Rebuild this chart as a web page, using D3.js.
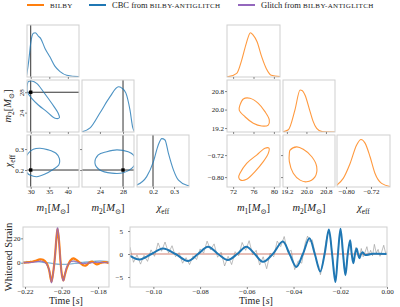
<!DOCTYPE html>
<html>
<head>
<meta charset="utf-8">
<script src="https://cdn.jsdelivr.net/npm/d3@7.9.0/dist/d3.min.js"></script>
<style>
  body { margin: 0; background: #fff; }
  svg text { font-family: "Liberation Serif", "DejaVu Serif", serif; fill: #222; }
</style>
</head>
<body>
<script>
// ---- data ----

// series colours
const colBilby  = '#ff7f0e';
const colCBC    = '#1f77b4';
const colGlitch = '#9467bd';

// legend
const legendLabels = [
  { pre: '', sc: 'bilby', color: colBilby },
  { pre: 'CBC from ', sc: 'bilby-antiglitch', color: colCBC },
  { pre: 'Glitch from ', sc: 'bilby-antiglitch', color: colGlitch }
];

// left corner (CBC from bilby-antiglitch): marginals [value, density]
const leftM1Hist  = [[28.9,0.04],[29.5,0.38],[30.0,0.75],[30.7,0.97],[31.2,0.98],[32.1,0.90],[32.7,0.85],[33.85,0.63],[35.2,0.44],[36.5,0.24],[37.9,0.12],[39.7,0.04],[42.8,0.01],[43.2,0.01]];
const leftM2Hist  = [[20.8,0.0],[22.3,0.09],[24.0,0.42],[25.7,0.77],[27.2,1.0],[27.8,0.97],[28.5,0.86],[29.2,0.49],[29.7,0.09],[30.0,0.01]];
const leftChiHist = [[0.12,0.04],[0.17,0.23],[0.202,0.56],[0.225,0.93],[0.242,1.07],[0.257,1.04],[0.273,0.75],[0.297,0.38],[0.321,0.15],[0.361,0.04],[0.375,0.03]];
// left corner 2D contours
const leftM1M2  = [[29.35,30.07],[30.27,30.2],[31.6,29.75],[33.4,28.1],[35.65,25.83],[37.4,23.87],[37.7,23.0],[36.55,22.9],[34.3,24.2],[32.05,25.5],[30.27,26.8],[29.08,28.1],[29.08,29.4]];
const leftM1Chi = [[29.35,0.280],[30.7,0.299],[32.5,0.304],[34.74,0.296],[36.8,0.280],[37.7,0.256],[37.55,0.224],[36.1,0.204],[33.85,0.181],[31.6,0.168],[29.8,0.176],[29.08,0.185],[28.2,0.234]];
const leftM2Chi = [[23.15,0.232],[23.72,0.272],[25.17,0.287],[26.9,0.296],[28.9,0.287],[29.78,0.272],[30.24,0.238],[29.5,0.208],[28.05,0.187],[26.04,0.185],[24.0,0.200]];
const leftTruths = [30, 28, 0.2];

// right corner (bilby)
const rightM1Hist  = [[70.6,0.01],[71.05,0.01],[72.7,0.08],[73.7,0.38],[74.6,0.75],[75.4,0.98],[75.9,0.93],[76.7,0.78],[77.6,0.45],[78.5,0.19],[79.5,0.04],[81.3,0.01]];
const rightM2Hist  = [[19.0,0.0],[19.26,0.05],[19.53,0.49],[19.74,0.93],[19.82,0.92],[19.94,0.82],[20.15,0.45],[20.27,0.24],[20.42,0.08],[20.64,0.01],[21.2,0.0]];
const rightChiHist = [[-0.83,0.04],[-0.809,0.19],[-0.787,0.52],[-0.766,0.93],[-0.752,1.05],[-0.739,0.97],[-0.723,0.67],[-0.707,0.30],[-0.686,0.08],[-0.658,0.01]];
const rightM1M2  = [[73.35,20.20],[74.0,20.46],[75.3,20.49],[76.94,20.27],[78.25,19.91],[79.1,19.55],[78.9,19.33],[77.6,19.29],[75.96,19.41],[74.33,19.69],[73.2,19.98]];
const rightM1Chi = [[73.35,-0.786],[74.66,-0.750],[76.62,-0.720],[78.25,-0.695],[79.04,-0.695],[78.9,-0.714],[77.92,-0.744],[76.29,-0.780],[74.66,-0.808],[73.49,-0.811],[73.1,-0.801]];
const rightM2Chi = [[19.33,-0.702],[19.6,-0.690],[19.87,-0.699],[20.22,-0.726],[20.42,-0.762],[20.35,-0.799],[20.01,-0.817],[19.74,-0.811],[19.46,-0.786],[19.3,-0.744],[19.3,-0.714]];

// tick values
const leftXTicks  = [[30, 35, 40], [24, 28], [0.2, 0.3]];
const leftYTicks  = [null, [24, 28], [0.2, 0.3]];
const rightXTicks = [[72, 76, 80], [19.2, 20.0, 20.8], [-0.80, -0.72]];
const rightYTicks = [null, [19.2, 20.0, 20.8], [-0.80, -0.72]];

// whitened strain around the glitch, [time s, strain]
const glitchData = [[-0.2211,0.8],[-0.2200,-0.6],[-0.2190,1.2],[-0.2180,-0.2],[-0.2170,1.5],[-0.2160,0.3],[-0.2150,2.0],[-0.2140,0.4],[-0.2130,2.2],[-0.2120,1.0],[-0.2110,2.6],[-0.2100,0.6],[-0.2090,0.8],[-0.2080,-2.2],[-0.2070,-5.0],[-0.2062,-11.5],[-0.2055,-16.5],[-0.2046,-9],[-0.2038,1],[-0.2030,14],[-0.2022,29.5],[-0.2014,20],[-0.2006,3],[-0.1998,-9.5],[-0.1990,-15],[-0.1982,-10],[-0.1972,-4.5],[-0.1962,-1.5],[-0.1952,1.8],[-0.1942,0.6],[-0.1932,2.6],[-0.1922,0.8],[-0.1912,1.2],[-0.1902,-0.9],[-0.1892,0.4],[-0.1882,-1.6],[-0.1872,-0.2],[-0.1862,-1.8],[-0.1852,0.3],[-0.1842,-0.5],[-0.1832,1.4],[-0.1822,0.1],[-0.1812,0.9],[-0.1802,-1.2],[-0.1792,0.2],[-0.1782,-0.8],[-0.1772,0.9],[-0.1762,-0.1],[-0.1752,0.7],[-0.1740,-0.4]];
const glitchBilby = [[-0.2211,0],[-0.2173,0.5],[-0.2145,1.5],[-0.2118,2.8],[-0.2101,2.5],[-0.2081,-0.5],[-0.2068,-6],[-0.2055,-15.5],[-0.2044,-6],[-0.2036,5],[-0.2028,20],[-0.2022,27.5],[-0.2015,20],[-0.2006,2],[-0.1998,-10],[-0.1990,-14.5],[-0.1982,-10],[-0.1970,-4],[-0.1950,2],[-0.1935,3.5],[-0.1921,2.5],[-0.1899,0],[-0.1882,-2],[-0.1866,-2.2],[-0.1849,0],[-0.1833,1],[-0.1807,-1.3],[-0.1784,0],[-0.1762,0.5],[-0.1740,-0.3]];
const glitchAnti = [[-0.2211,0],[-0.2150,0.5],[-0.2110,1.2],[-0.2085,-0.5],[-0.2068,-5.5],[-0.2055,-16.5],[-0.2044,-6.5],[-0.2036,5],[-0.2028,21],[-0.2022,29.5],[-0.2015,21],[-0.2006,2],[-0.1998,-10.5],[-0.1990,-15],[-0.1982,-10],[-0.1970,-3],[-0.1945,1.2],[-0.1920,0.8],[-0.1890,-0.6],[-0.1860,-0.4],[-0.1820,0.2],[-0.1740,0]];
const glitchCBC = [[-0.2211,0.4],[-0.2140,0.9],[-0.2070,-0.2],[-0.2000,-1.4],[-0.1930,-0.6],[-0.1860,0.6],[-0.1790,1.4],[-0.1740,0.9]];

// whitened strain before merger, [time s, strain]
const chirpData = [[-0.1100,1.5],[-0.1085,-1.8],[-0.1070,-0.2],[-0.1055,-2.2],[-0.1040,-0.3],[-0.1025,-1.6],[-0.1010,0.9],[-0.0995,-0.5],[-0.0980,2.4],[-0.0965,0.6],[-0.0950,2.6],[-0.0935,0.2],[-0.0920,1.8],[-0.0905,-0.6],[-0.0890,0.3],[-0.0875,-2.0],[-0.0860,-0.8],[-0.0845,-2.3],[-0.0830,-0.4],[-0.0815,-1.2],[-0.0800,1.1],[-0.0785,0.2],[-0.0770,2.8],[-0.0755,0.9],[-0.0740,2.2],[-0.0725,-0.7],[-0.0710,0.4],[-0.0695,-2.6],[-0.0680,-0.5],[-0.0665,-2.3],[-0.0650,0.5],[-0.0635,-0.4],[-0.0620,2.5],[-0.0605,0.8],[-0.0590,2.9],[-0.0575,-0.2],[-0.0560,0.8],[-0.0545,-2.4],[-0.0530,-0.6],[-0.0515,-3.2],[-0.0500,0.2],[-0.0485,-0.6],[-0.0470,2.8],[-0.0455,1.6],[-0.0440,3.8],[-0.0425,0.4],[-0.0410,0.8],[-0.0395,-3.4],[-0.0380,-1.5],[-0.0365,-2.0],[-0.0350,2.4],[-0.0340,3.9],[-0.0330,2.6],[-0.0320,3.1],[-0.0310,0.6],[-0.0300,-1.9],[-0.0292,-2.6],[-0.0285,-4.5],[-0.0278,-2.8],[-0.0270,-0.4],[-0.0262,2.6],[-0.0255,4.0],[-0.0248,4.9],[-0.0240,2.6],[-0.0233,-0.8],[-0.0226,-4.0],[-0.0220,-5.8],[-0.0214,-2.4],[-0.0207,2.2],[-0.0200,5.0],[-0.0194,3.2],[-0.0188,-0.6],[-0.0182,-3.2],[-0.0176,-4.0],[-0.0170,-1.0],[-0.0164,1.8],[-0.0158,2.6],[-0.0152,0.4],[-0.0146,-1.4],[-0.0140,-0.8],[-0.0134,1.4],[-0.0128,0.6],[-0.0122,-0.4],[-0.0116,-0.2],[-0.0110,1.2],[-0.0102,-0.6],[-0.0094,0.4],[-0.0086,1.6],[-0.0078,-0.3],[-0.0070,0.8],[-0.0062,-0.4],[-0.0054,2.1],[-0.0046,0.2],[-0.0038,1.0],[-0.0030,-0.5],[-0.0022,0.6],[-0.0014,1.9],[-0.0006,0.2],[0.0000,0.5]];
const chirpCBC = [[-0.1100,-0.4],[-0.1058,-1.2],[-0.1008,0],[-0.0959,1.2],[-0.0905,0],[-0.0852,-1.5],[-0.0809,0],[-0.0766,1.6],[-0.0723,0],[-0.0681,-1.3],[-0.0641,0],[-0.0602,1.6],[-0.0566,0],[-0.0531,-1.7],[-0.0489,0],[-0.0446,2.7],[-0.0417,0],[-0.0388,-2.8],[-0.0360,0],[-0.0332,3.4],[-0.0309,0],[-0.0286,-3.8],[-0.0267,0],[-0.0249,5.3],[-0.0235,0],[-0.0221,-6.1],[-0.0210,0],[-0.0199,5.5],[-0.0188,0],[-0.0178,-4.6],[-0.0168,0],[-0.0158,3.0],[-0.0151,0],[-0.0144,-2.0],[-0.0137,0],[-0.0130,1.2],[-0.0124,0],[-0.0118,-0.9],[-0.0111,0],[-0.0104,0.4],[-0.0098,0],[-0.0093,-0.2],[-0.0060,0.05],[0.0000,0]];
const chirpGlitch = [[-0.1100,0],[0.0000,0]];

const waveLeftTicksX  = [-0.22, -0.20, -0.18];
const waveLeftTicksY  = [0, 20];
const waveRightTicksX = [-0.10, -0.08, -0.06, -0.04, -0.02, 0.00];
const waveRightTicksY = [-5, 0, 5];

// ---- drawing ----
const svg = d3.select('body').append('svg').attr('width', 400).attr('height', 307);
const defs = svg.append('defs');
const FONT = '"Liberation Serif", "DejaVu Serif", serif';
let clipN = 0;

function frame(x0, x1, y0, y1) {
  const id = 'clip' + (clipN++);
  defs.append('clipPath').attr('id', id)
    .append('rect').attr('x', x0).attr('y', y0).attr('width', x1 - x0).attr('height', y1 - y0);
  const g = svg.append('g');
  const inner = g.append('g').attr('clip-path', `url(#${id})`);
  g.append('rect')
    .attr('x', x0).attr('y', y0).attr('width', x1 - x0).attr('height', y1 - y0)
    .attr('fill', 'none').attr('stroke', '#cfcfcf').attr('stroke-width', 1);
  return { g, inner };
}

function styleAxis(sel, size) {
  sel.attr('font-family', FONT).attr('font-size', size);
  sel.select('.domain').remove();
  sel.selectAll('.tick line').attr('stroke', '#555').attr('stroke-width', 0.7);
  sel.selectAll('.tick text').attr('fill', '#222');
}

// math-ish label made of tspans: {t, i: italic, s: subscript}
function mathLabel(parent, parts, size) {
  const t = parent.append('text').attr('font-size', size).attr('text-anchor', 'middle');
  let shift = 0;
  parts.forEach(p => {
    const ts = t.append('tspan').text(p.t);
    if (p.i) ts.attr('font-style', 'italic');
    const want = p.s ? size * 0.3 : 0;
    if (want !== shift) { ts.attr('dy', want - shift); shift = want; }
    if (p.s) ts.attr('font-size', size * 0.7);
  });
  return t;
}
const lblM1  = [{t:'m',i:1},{t:'1',s:1},{t:'['},{t:'M',i:1},{t:'⊙',s:1},{t:']'}];
const lblM2  = [{t:'m',i:1},{t:'2',s:1},{t:'['},{t:'M',i:1},{t:'⊙',s:1},{t:']'}];
const lblChi = [{t:'χ',i:1},{t:'eff',s:1}];

const rows = [[25, 77], [80, 132], [135, 187]];

function drawCorner(cfg) {
  for (let r = 0; r < 3; r++) {
    for (let c = 0; c <= r; c++) {
      const [x0, x1] = cfg.cols[c], [y0, y1] = rows[r];
      const x = d3.scaleLinear().domain(cfg.xDom[c]).range([x0, x1]);
      const y = d3.scaleLinear().domain(r === c ? [0, 1.15] : cfg.yDom[r]).range([y1, y0]);
      const { g, inner } = frame(x0, x1, y0, y1);

      if (cfg.truths) {
        inner.append('line')
          .attr('x1', x(cfg.truths[c])).attr('x2', x(cfg.truths[c]))
          .attr('y1', y0).attr('y2', y1)
          .attr('stroke', '#333').attr('stroke-width', 1);
        if (r !== c) {
          inner.append('line')
            .attr('x1', x0).attr('x2', x1)
            .attr('y1', y(cfg.truths[r])).attr('y2', y(cfg.truths[r]))
            .attr('stroke', '#333').attr('stroke-width', 1);
        }
      }

      const line = d3.line().x(d => x(d[0])).y(d => y(d[1]));
      if (r === c) {
        inner.append('path').datum(cfg.hists[c])
          .attr('d', line.curve(d3.curveMonotoneX))
          .attr('fill', 'none').attr('stroke', cfg.color)
          .attr('stroke-opacity', 0.8).attr('stroke-width', 1.1);
      } else {
        inner.append('path').datum(cfg.contours[r + '' + c])
          .attr('d', line.curve(d3.curveCatmullRomClosed))
          .attr('fill', 'none').attr('stroke', cfg.color)
          .attr('stroke-opacity', 0.8).attr('stroke-width', 1.1);
        if (cfg.truths) {
          inner.append('rect')
            .attr('x', x(cfg.truths[c]) - 1.7).attr('y', y(cfg.truths[r]) - 1.7)
            .attr('width', 3.4).attr('height', 3.4).attr('fill', '#000');
        }
      }

      const ax = g.append('g').attr('transform', `translate(0,${y1})`)
        .call(d3.axisBottom(x).tickValues(cfg.xTicks[c]).tickSize(2).tickPadding(0.5)
          .tickFormat(r === 2 ? cfg.xFmt[c] : () => ''));
      styleAxis(ax, 7);

      if (r !== c) {
        const ay = g.append('g').attr('transform', `translate(${x0},0)`)
          .call(d3.axisLeft(y).tickValues(cfg.yTicks[r]).tickSize(2).tickPadding(1)
            .tickFormat(c === 0 ? cfg.yFmt[r] : () => ''));
        styleAxis(ay, 7);
        if (c === 0 && cfg.rotateY && cfg.rotateY[r]) {
          ay.selectAll('.tick text')
            .attr('x', null).attr('dy', null)
            .attr('text-anchor', 'middle')
            .attr('transform', 'translate(-3,0) rotate(-90)');
        }
      }
    }
  }
  // x axis titles
  [lblM1, lblM2, lblChi].forEach((parts, c) => {
    const cx = (cfg.cols[c][0] + cfg.cols[c][1]) / 2;
    mathLabel(svg.append('g').attr('transform', `translate(${cx},211)`), parts, 10.5);
  });
  if (cfg.yTitles) {
    mathLabel(svg.append('g').attr('transform', 'translate(11,106) rotate(-90)'), lblM2, 10.5);
    mathLabel(svg.append('g').attr('transform', 'translate(12,161) rotate(-90)'), lblChi, 10.5);
  }
}

drawCorner({
  cols: [[27, 79], [82, 134], [137, 189]],
  xDom: [[29, 43], [20.9, 29.9], [0.124, 0.371]],
  yDom: [null, [20.2, 30.4], [0.119, 0.367]],
  xTicks: leftXTicks, yTicks: leftYTicks,
  xFmt: [d3.format('d'), d3.format('d'), d3.format('.1f')],
  yFmt: [null, d3.format('d'), d3.format('.1f')],
  rotateY: [false, true, false],
  hists: [leftM1Hist, leftM2Hist, leftChiHist],
  contours: { '10': leftM1M2, '20': leftM1Chi, '21': leftM2Chi },
  truths: leftTruths,
  color: colCBC,
  yTitles: true
});

drawCorner({
  cols: [[227, 280], [283, 335], [337, 390]],
  xDom: [[70.8, 81.2], [19.04, 21.17], [-0.829, -0.659]],
  yDom: [null, [19.03, 21.28], [-0.836, -0.647]],
  xTicks: rightXTicks, yTicks: rightYTicks,
  xFmt: [d3.format('d'), d3.format('.1f'), d3.format('.2f')],
  yFmt: [null, d3.format('.1f'), d3.format('.2f')],
  hists: [rightM1Hist, rightM2Hist, rightChiHist],
  contours: { '10': rightM1M2, '20': rightM1Chi, '21': rightM2Chi },
  color: colBilby
});

// ---- legend ----
// small caps drawn as uppercase at a smaller size
const legendX = [27, 89, 238];
legendLabels.forEach((d, i) => {
  const g = svg.append('g').attr('transform', `translate(${legendX[i]},5)`);
  g.append('line').attr('x1', 0).attr('x2', 17).attr('stroke', d.color).attr('stroke-width', 2);
  const t = g.append('text').attr('x', 23).attr('y', 2.8).attr('font-size', 8.5);
  if (d.pre) t.append('tspan').text(d.pre);
  t.append('tspan').attr('font-size', 7).attr('letter-spacing', 0.35).text(d.sc.toUpperCase());
});

// ---- waveforms ----
function waveAxes(x0, x1, y0, y1, xDom, yDom, xt, yt, xf, yf, yPad) {
  const x = d3.scaleLinear().domain(xDom).range([x0, x1]);
  const y = d3.scaleLinear().domain(yDom).range([y1, y0]);
  const f = frame(x0, x1, y0, y1);
  const ax = f.g.append('g').attr('transform', `translate(0,${y1})`)
    .call(d3.axisBottom(x).tickValues(xt).tickSize(2).tickPadding(0).tickFormat(xf));
  styleAxis(ax, 7);
  const ay = f.g.append('g').attr('transform', `translate(${x0},0)`)
    .call(d3.axisLeft(y).tickValues(yt).tickSize(2).tickPadding(yPad).tickFormat(yf));
  styleAxis(ay, 7);
  const line = d3.line().x(d => x(d[0])).y(d => y(d[1]));
  return { inner: f.inner, line };
}

const wl = waveAxes(23, 109, 227, 287, [-0.2211, -0.174], [-19.9, 29.3],
  waveLeftTicksX, waveLeftTicksY, d3.format('.2f'), d3.format('d'), 0.5);
wl.inner.append('path').datum(glitchData).attr('d', wl.line.curve(d3.curveLinear))
  .attr('fill', 'none').attr('stroke', '#999').attr('stroke-width', 0.8).attr('stroke-opacity', 0.8);
wl.inner.append('path').datum(glitchCBC).attr('d', wl.line.curve(d3.curveCatmullRom))
  .attr('fill', 'none').attr('stroke', colCBC).attr('stroke-width', 1.3).attr('stroke-opacity', 0.55);
wl.inner.append('path').datum(glitchBilby).attr('d', wl.line.curve(d3.curveCatmullRom))
  .attr('fill', 'none').attr('stroke', colBilby).attr('stroke-width', 2.2);
wl.inner.append('path').datum(glitchAnti).attr('d', wl.line.curve(d3.curveCatmullRom))
  .attr('fill', 'none').attr('stroke', colGlitch).attr('stroke-width', 1.2).attr('stroke-opacity', 0.85);

const wr = waveAxes(130, 387, 227, 287, [-0.11, 0.0], [-7.17, 5.87],
  waveRightTicksX, waveRightTicksY, d3.format('.2f'), d3.format('d'), 5);
wr.inner.append('path').datum(chirpData).attr('d', wr.line.curve(d3.curveLinear))
  .attr('fill', 'none').attr('stroke', '#999').attr('stroke-width', 0.8).attr('stroke-opacity', 0.8);
wr.inner.append('path').datum(chirpGlitch).attr('d', wr.line.curve(d3.curveLinear))
  .attr('fill', 'none').attr('stroke', colBilby).attr('stroke-width', 1.1).attr('stroke-opacity', 0.6);
wr.inner.append('path').datum(chirpGlitch).attr('d', wr.line.curve(d3.curveLinear))
  .attr('fill', 'none').attr('stroke', colGlitch).attr('stroke-width', 1.1).attr('stroke-opacity', 0.45);
wr.inner.append('path').datum(chirpCBC).attr('d', wr.line.curve(d3.curveCatmullRom))
  .attr('fill', 'none').attr('stroke', colCBC).attr('stroke-width', 2);

// titles
svg.append('text').attr('font-size', 10.5).attr('text-anchor', 'middle')
  .attr('transform', 'translate(12,257) rotate(-90)').text('Whitened Strain');
[[66, 304], [256, 304]].forEach(([cx, cy]) => {
  const t = svg.append('text').attr('font-size', 10).attr('text-anchor', 'middle')
    .attr('x', cx).attr('y', cy);
  t.append('tspan').text('Time [');
  t.append('tspan').attr('font-style', 'italic').text('s');
  t.append('tspan').text(']');
});
</script>
</body>
</html>
